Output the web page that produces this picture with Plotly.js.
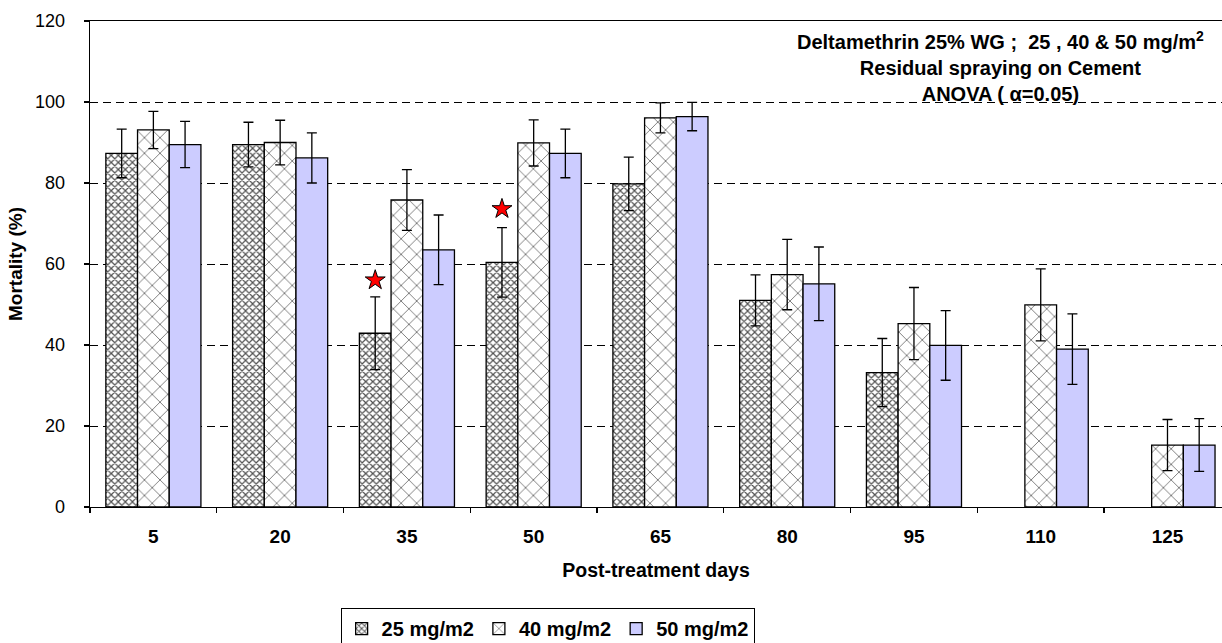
<!DOCTYPE html>
<html>
<head>
<meta charset="utf-8">
<script src="https://cdn.plot.ly/plotly-3.0.1.min.js"></script>
<style>html,body{margin:0;padding:0;background:#fff;}#chart{width:1222px;height:643px;}</style>
</head>
<body>
<div id="chart"></div>
<script>
const categories = ["5","20","35","50","65","80","95","110","125"];
const series25 = [87.3, 89.5, 42.9, 60.4, 79.8, 51.0, 33.2, null, null];
const err25    = [6.0, 5.5, 9.0, 8.6, 6.6, 6.3, 8.4, null, null];
const series40 = [93.1, 90.0, 75.8, 89.9, 96.1, 57.4, 45.3, 49.9, 15.3];
const err40    = [4.6, 5.5, 7.5, 5.7, 3.7, 8.7, 8.9, 8.9, 6.3];
const series50 = [89.5, 86.2, 63.5, 87.3, 96.4, 55.1, 39.9, 39.0, 15.3];
const err50    = [5.7, 6.2, 8.6, 6.0, 3.5, 9.1, 8.6, 8.7, 6.5];
const starCategories = ["35", "50"];
const starValues = [56.0, 73.6];
const seriesNames = ["25 mg/m2", "40 mg/m2", "50 mg/m2"];
const yTicks = [0, 20, 40, 60, 80, 100, 120];

const FONT = "Liberation Sans, Arial, sans-serif";
const xRange = [-0.5, 8.43];

function barTrace(name, y, e, pattern, color) {
  return {
    type: "bar", name: name, x: categories, y: y,
    marker: { color: color, line: { color: "#000", width: 1.3 }, pattern: pattern },
    error_y: { type: "data", array: e, visible: true, color: "#000", thickness: 1.3, width: 5 },
    hoverinfo: "x+y"
  };
}

const bargap = 0.25;
const barW = (1 - bargap) / 3;
const starX = starCategories.map(c => categories.indexOf(c) - barW);

const traces = [
  barTrace(seriesNames[0], series25, err25, { shape: "x", fgcolor: "#505050", bgcolor: "#fff", size: 5, solidity: 0.42 }, "#fff"),
  barTrace(seriesNames[1], series40, err40, { shape: "x", fgcolor: "#555", bgcolor: "#fff", size: 11, solidity: 0.13 }, "#fff"),
  barTrace(seriesNames[2], series50, err50, { shape: "" }, "#ccccff"),
  {
    type: "scatter", mode: "markers", x: starX, y: starValues, xaxis: "x2",
    marker: { symbol: "star", size: 15, color: "#ff0000", line: { color: "#000", width: 1 } },
    showlegend: false, hoverinfo: "y"
  }
];

const layout = {
  width: 1222, height: 643,
  margin: { l: 90, r: 0, t: 21, b: 136, autoexpand: false },
  paper_bgcolor: "#fff", plot_bgcolor: "#fff",
  font: { family: FONT, color: "#000" },
  barmode: "group", bargap: bargap, bargroupgap: 0,
  showlegend: true,
  legend: {
    orientation: "h", x: 0.2214, xanchor: "left", y: -0.208, yanchor: "top",
    bordercolor: "#000", borderwidth: 1, bgcolor: "#fff",
    font: { family: FONT, size: 20, weight: "bold" },
    itemwidth: 30, tracegroupgap: 0
  },
  xaxis: {
    type: "category", range: xRange,
    showline: true, linecolor: "#000", linewidth: 1.3, mirror: true,
    ticks: "outside", ticklen: 5, tickcolor: "#000", tickwidth: 1.3, tickson: "boundaries",
    tickfont: { family: FONT, size: 19, weight: "bold" },
    ticklabelstandoff: 12,
    showgrid: false, zeroline: false,
    title: { text: "Post-treatment days", font: { family: FONT, size: 19.5, weight: "bold" }, standoff: 17 }
  },
  xaxis2: { overlaying: "x", range: xRange, visible: false, type: "linear" },
  yaxis: {
    range: [0, 120], tickvals: yTicks,
    showline: true, linecolor: "#000", linewidth: 1.3,
    ticks: "outside", ticklen: 5, tickcolor: "#000", tickwidth: 1.3,
    tickfont: { family: FONT, size: 18 },
    ticklabelstandoff: 15,
    showgrid: true, gridcolor: "#000", gridwidth: 1, griddash: "8px,5px",
    zeroline: false,
    title: { text: "Mortality (%)", font: { family: FONT, size: 19, weight: "bold" }, standoff: 7 }
  },
  annotations: [{
    xref: "paper", yref: "paper", x: 0.8047, y: 0.99, xanchor: "center", yanchor: "top",
    showarrow: false, align: "center",
    text: "<b>Deltamethrin 25% WG ;  25 , 40 &amp; 50 mg/m<sup>2</sup></b><br><b>Residual spraying on Cement</b><br><b>ANOVA ( α=0.05)</b>",
    font: { family: FONT, size: 20, color: "#000" }
  }]
};

Plotly.newPlot("chart", traces, layout, { displayModeBar: false, staticPlot: true });
</script>
</body>
</html>
